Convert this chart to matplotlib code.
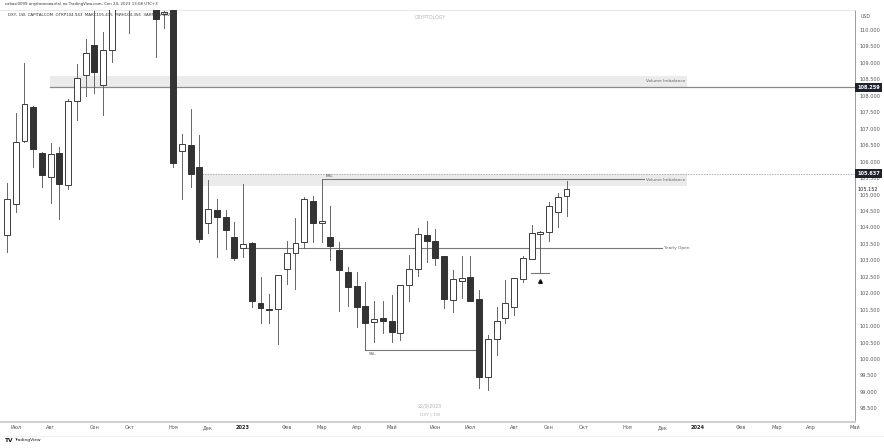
import matplotlib
matplotlib.use("Agg")
import matplotlib.pyplot as plt
from matplotlib.patches import Rectangle
from matplotlib.lines import Line2D
import numpy as np

plt.rcParams['font.family'] = ['DejaVu Sans']

# ---------------- data (weekly DXY, index 0 = week of 27 Jun 2022) ----------------
opens = [103.77, 104.71, 106.63, 107.66, 106.26, 105.53, 106.26, 105.29, 107.84, 108.63,
         109.54, 108.33, 109.39, 112.80, 111.70, 112.50, 112.90, 111.70, 110.49, 110.60,
         106.32, 106.50, 105.84, 104.13, 104.53, 104.32, 103.71, 103.37, 103.53, 101.70,
         101.50, 101.52, 102.74, 103.22, 103.56, 104.80, 104.13, 103.71, 103.31, 102.64,
         102.22, 101.61, 101.12, 101.24, 101.15, 100.79, 102.25, 102.74, 103.77, 103.59,
         103.13, 101.79, 102.37, 102.49, 101.82, 99.45, 100.61, 101.24, 101.58, 102.43,
         103.04, 103.80, 103.86, 104.47, 104.943]
highs = [105.35, 107.48, 109.00, 107.70, 106.30, 106.57, 106.44, 107.90, 108.97, 109.73,
         110.90, 109.94, 113.00, 114.40, 112.50, 113.60, 113.50, 112.10, 112.70, 110.70,
         106.84, 107.60, 106.81, 105.44, 104.86, 104.53, 104.16, 105.32, 103.56, 102.49,
         101.98, 102.55, 103.59, 104.29, 104.92, 104.95, 105.47, 104.65, 103.56, 102.80,
         102.64, 102.34, 101.76, 101.76, 101.94, 102.25, 103.16, 103.98, 104.19, 103.95,
         103.13, 102.71, 103.13, 103.13, 102.10, 100.73, 101.58, 102.40, 102.46, 103.13,
         104.07, 103.88, 104.77, 105.05, 105.415]
lows = [103.25, 104.47, 106.60, 105.84, 105.23, 104.74, 104.26, 105.17, 107.26, 107.99,
        108.09, 107.42, 109.03, 111.20, 109.90, 112.10, 111.30, 109.18, 110.06, 105.84,
        104.86, 105.23, 103.56, 103.83, 103.10, 103.34, 103.00, 103.10, 101.58, 101.09,
        101.09, 100.46, 102.28, 102.13, 103.37, 103.56, 103.56, 103.00, 101.46, 101.61,
        100.97, 100.27, 100.52, 100.79, 100.52, 100.58, 101.76, 102.52, 102.95, 102.86,
        101.55, 101.43, 101.85, 101.76, 99.12, 99.06, 100.12, 101.09, 101.34, 102.34,
        103.04, 102.61, 103.59, 104.01, 104.356]
closes = [104.86, 106.60, 107.75, 106.38, 105.59, 106.23, 105.32, 107.84, 108.54, 109.30,
          108.72, 109.39, 112.80, 111.80, 112.50, 112.90, 111.70, 110.33, 110.56, 105.96,
          106.53, 105.62, 103.65, 104.56, 104.32, 103.92, 103.07, 103.50, 101.76, 101.55,
          101.48, 102.55, 103.22, 103.53, 104.86, 104.13, 104.19, 103.43, 102.71, 102.19,
          101.58, 101.09, 101.21, 101.15, 100.82, 102.25, 102.74, 103.80, 103.59, 103.07,
          101.82, 102.43, 102.46, 101.76, 99.45, 100.61, 101.15, 101.70, 102.46, 103.07,
          103.83, 103.86, 104.65, 104.92, 105.152]

month_labels = ["Июл", "Авг", "Сен", "Окт", "Ноя", "Дек", "2023", "Фев", "Мар", "Апр", "Май", "Июн",
                "Июл", "Авг", "Сен", "Окт", "Ноя", "Дек", "2024", "Фев", "Мар", "Апр", "Май"]
month_week_idx = [1, 5, 10, 14, 19, 23, 27, 32, 36, 40, 44, 49,
                  53, 58, 62, 66, 71, 75, 79, 84, 88, 92, 97]

vi_upper = (108.259, 108.60)   # volume imbalance zone (line value, top)
vi_lower = (105.26, 105.637)   # volume imbalance zone (bottom, dotted line value)
bsl_level = 105.47
yearly_open = 103.37
ssl_level = 100.27
low_mark = 102.61
last_price = 105.152

header1 = "cabasi0099 опубликовал(а) на TradingView.com, Сен 24, 2023 13:08 UTC+3"
header2 = "DXY, 1W, CAPITALCOM  ОТКР104.943  МАКС105.415  МИН104.356  ЗАКР105.152"

# ---------------- figure ----------------
W, H = 884, 448
fig = plt.figure(figsize=(W / 100, H / 100), dpi=100)
fig.patch.set_facecolor("white")
ax = fig.add_axes([0, 26 / H, 855 / W, 412 / H])
ax.set_facecolor("white")

PX = 8.75  # pixels per week
x_left = -7 / PX
x_right = x_left + 855 / PX
ax.set_xlim(x_left, x_right)
ax.set_ylim(98.085, 110.608)

bull_edge = "#3c3c3c"
bear_face = "#333333"
wick_c = "#666666"
bw = 0.68

for i, (o, h, l, c) in enumerate(zip(opens, highs, lows, closes)):
    ax.add_line(Line2D([i, i], [l, h], color=wick_c, lw=0.7, zorder=2))
    lo, hi = min(o, c), max(o, c)
    hgt = max(hi - lo, 0.03)
    if c >= o:
        r = Rectangle((i - bw / 2, lo), bw, hgt, facecolor="white", edgecolor=bull_edge, lw=0.7, zorder=3)
    else:
        r = Rectangle((i - bw / 2, lo), bw, hgt, facecolor=bear_face, edgecolor=bear_face, lw=0.7, zorder=3)
    ax.add_patch(r)

line_c = "#8a8a8a"
band_c = "#ebebeb"
# upper volume imbalance
ax.add_patch(Rectangle((4.9, vi_upper[0]), 77.8 - 4.9, vi_upper[1] - vi_upper[0],
                       facecolor=band_c, edgecolor="none", zorder=1))
ax.plot([4.9, x_right], [vi_upper[0], vi_upper[0]], color=line_c, lw=0.9, zorder=1.5)
ax.text(77.6, (vi_upper[0] + vi_upper[1]) / 2 + 0.02, "Volume Imbalance", fontsize=3.1,
        color="#666666", ha="right", va="center", zorder=4)
# lower volume imbalance
ax.add_patch(Rectangle((22.3, vi_lower[0]), 77.8 - 22.3, vi_lower[1] - vi_lower[0],
                       facecolor=band_c, edgecolor="none", zorder=1))
ax.plot([22.3, x_right], [vi_lower[1], vi_lower[1]], color="#b0b0b0", lw=0.7,
        ls=(0, (1.5, 1.2)), zorder=1.5)
ax.text(77.6, (vi_lower[0] + vi_lower[1]) / 2 - 0.02, "Volume Imbalance", fontsize=3.1,
        color="#666666", ha="right", va="center", zorder=4)
# BSL
ax.plot([36, 72.9], [bsl_level, bsl_level], color="#777777", lw=0.8, zorder=1.6)
ax.text(36.4, bsl_level + 0.04, "BSL", fontsize=3.0, color="#555555", ha="left", va="bottom", zorder=4)
# Yearly open
ax.plot([27, 74.9], [yearly_open, yearly_open], color="#777777", lw=0.8, zorder=1.6)
ax.text(75.1, yearly_open, "Yearly Open", fontsize=3.1, color="#666666", ha="left", va="center", zorder=4)
# SSL
ax.plot([41, 54], [ssl_level, ssl_level], color="#777777", lw=0.8, zorder=1.6)
ax.text(41.4, ssl_level - 0.05, "SSL", fontsize=3.0, color="#555555", ha="left", va="top", zorder=4)
# small low marker
ax.plot([59.9, 62.0], [low_mark, low_mark], color="#777777", lw=0.8, zorder=1.6)
ax.plot([61], [low_mark - 0.24], marker="^", color="#111111", markersize=2.6, zorder=5)

# watermark texts
ax.text(0.503, 0.983, "CRYPTOLOGY", transform=ax.transAxes, fontsize=3.4, color="#b5b5b5",
        ha="center", va="center")
ax.text(0.503, 0.039, "22/9/2023", transform=ax.transAxes, fontsize=3.4, color="#b5b5b5",
        ha="center", va="center")
ax.text(0.503, 0.019, "DXY | 1W", transform=ax.transAxes, fontsize=3.2, color="#b5b5b5",
        ha="center", va="center")

# axes styling
for s in ["left"]:
    ax.spines[s].set_visible(False)
ax.spines["top"].set_color("#e3e3e3")
ax.spines["top"].set_linewidth(0.6)
ax.spines["right"].set_color("#9a9a9a")
ax.spines["right"].set_linewidth(0.7)
ax.spines["bottom"].set_color("#cfcfcf")
ax.spines["bottom"].set_linewidth(1.4)

ax.yaxis.tick_right()
yt = np.arange(98.5, 110.001, 0.5)
ax.set_yticks(yt)
ax.set_yticklabels([f"{v:.3f}" for v in yt])
ax.tick_params(axis="y", length=0, pad=3, labelsize=3.6, labelcolor="#555555")

ax.set_xticks(month_week_idx)
ax.set_xticklabels(month_labels)
ax.tick_params(axis="x", length=0, pad=2.5, labelsize=3.6, labelcolor="#555555")
for lab in ax.get_xticklabels():
    if lab.get_text() in ("2023", "2024"):
        lab.set_fontweight("bold")
        lab.set_color("#222222")

# price labels on the axis
def price_box(v, txt, dark=True):
    if dark:
        ax.annotate(txt, xy=(1.0, v), xycoords=("axes fraction", "data"), xytext=(1.5, 0),
                    textcoords="offset points", fontsize=3.6, color="white", fontweight="bold",
                    ha="left", va="center", annotation_clip=False, zorder=10,
                    bbox=dict(boxstyle="square,pad=0.35", facecolor="#1e222d", edgecolor="none"))
    else:
        ax.annotate(txt, xy=(1.0, v), xycoords=("axes fraction", "data"), xytext=(1.5, 0),
                    textcoords="offset points", fontsize=3.6, color="#222222",
                    ha="left", va="center", annotation_clip=False, zorder=10,
                    bbox=dict(boxstyle="square,pad=0.25", facecolor="white", edgecolor="none"))

price_box(vi_upper[0], "108.259")
price_box(vi_lower[1], "105.637")
price_box(last_price, "105.152", dark=False)

# figure-level texts
fig.text(5 / W, 1 - 4.5 / H, header1, fontsize=2.8, color="#333333", ha="left", va="center")
fig.text(8 / W, 1 - 15 / H, header2, fontsize=2.9, color="#333333", ha="left", va="center")
fig.text(866 / W, 1 - 16 / H, "USD", fontsize=3.4, color="#555555", ha="center", va="center")
fig.text(5 / W, 1 - 440 / H, "TV", fontsize=4.2, color="#131722", fontweight="bold", ha="left", va="center")
fig.text(14 / W, 1 - 440 / H, "TradingView", fontsize=3.2, color="#131722", ha="left", va="center")
fig.add_artist(Line2D([0, 1], [1 - 436 / H, 1 - 436 / H], color="#ececec", lw=0.6))

fig.savefig("out.png", dpi=100, facecolor="white")
